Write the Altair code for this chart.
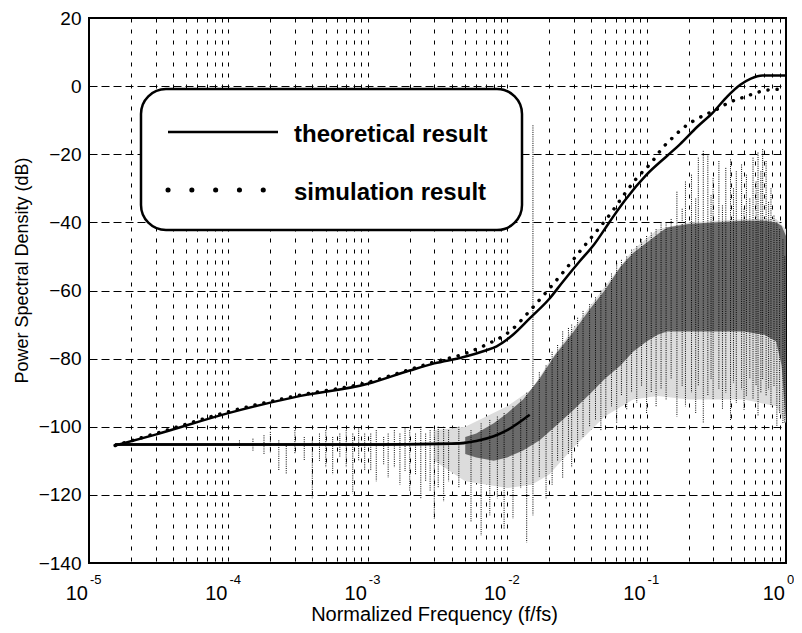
import altair as alt
import pandas as pd

FONT = "Liberation Sans"

# ---- theoretical result, upper curve (f/fs, dB)
th_up_f = [1.54e-5, 3e-5, 1e-4, 3e-4, 1e-3, 2e-3, 3e-3, 4.8e-3, 7e-3, 8.4e-3, 1.1e-2, 1.45e-2,
           2e-2, 2.5e-2, 3.3e-2, 4.2e-2, 5.5e-2, 7e-2, 0.1, 0.14, 0.174, 0.23, 0.3, 0.38,
           0.47, 0.56, 0.68, 1.0]
th_up_db = [-105.5, -102.3, -96, -91.3, -87.4, -83.5, -81.4, -79.6, -77.6, -76.4, -73, -68.2,
            -62.5, -57.5, -51.5, -46.5, -39.5, -33.5, -26, -20.5, -17, -12, -7.7, -3,
            0.4, 2.2, 3.1, 3.1]

# ---- simulation result, upper curve
sim_up_f = [1.54e-5, 3e-5, 1e-4, 3e-4, 1e-3, 2e-3, 3e-3, 5e-3, 7e-3, 1.08e-2, 1.45e-2, 2e-2,
            2.6e-2, 3.4e-2, 4.5e-2, 5.5e-2, 7e-2, 8.5e-2, 0.108, 0.131, 0.155, 0.18, 0.215,
            0.27, 0.32, 0.39, 0.47, 0.58, 0.68, 0.8, 1.0]
sim_up_db = [-105.5, -102, -95.6, -91, -87, -83.2, -81, -78.5, -76, -71.5, -66, -59.5,
             -54, -48, -42, -37.5, -31.5, -27, -22.5, -18, -15, -12.5, -10.3,
             -8.2, -6.8, -4.8, -3.6, -2.3, -1.4, -1.0, -0.9]

# ---- theoretical result, lower curve
th_lo_f = [1.54e-5, 1e-3, 4e-3, 6e-3, 8e-3, 1e-2, 1.45e-2, 2e-2, 2.5e-2, 3.5e-2, 6e-2,
           0.1, 0.2, 0.4, 0.7, 1.0]
th_lo_db = [-105.2, -105.2, -105, -104.2, -102.8, -101, -96.5, -92, -89, -84, -76,
            -64, -57, -55, -55, -55]

# ---- simulation result, lower (noisy spectrum): sparse outer envelope
out_f = [3e-3, 5e-3, 1e-2, 1.5e-2, 2e-2, 3e-2, 5e-2, 8e-2, 0.12, 0.2, 0.5, 0.85, 1.0]
out_hi = [-101, -100, -94, -89, -81, -71, -59, -48, -42, -40, -39, -39, -42]
out_lo = [-110, -116, -118, -117, -114, -106, -97, -92, -91, -92, -92, -94, -99]

# ---- simulation result, lower: dense core band
band_f = [5e-3, 6e-3, 8e-3, 1e-2, 1.3e-2, 1.7e-2, 2.2e-2, 3e-2, 4e-2, 5e-2, 6.5e-2,
          8e-2, 0.1, 0.12, 0.14, 0.2, 0.3, 0.5, 0.7, 0.85, 0.93, 1.0]
band_hi = [-103, -102, -99, -96, -92, -86, -79, -72, -65, -60, -53,
           -49, -46, -43.5, -41.5, -40.5, -40, -39.5, -39.5, -40, -41, -44]
band_lo = [-108, -109, -110, -109, -107, -104, -100, -95, -90, -86, -82,
           -78, -75, -73, -72, -72, -72, -72, -73, -75, -82, -99]

# ---- simulation result, lower: individual excursions (f, top dB, bottom dB)
spike_f = [1.2e-4, 1.5e-4, 1.8e-4, 2.0e-4, 2.3e-4, 2.6e-4, 3.0e-4, 3.5e-4, 4.0e-4, 4.5e-4,
           5.0e-4, 5.6e-4, 6.3e-4, 7.0e-4, 7.8e-4, 8.6e-4, 9.5e-4, 1.05e-3, 1.15e-3, 1.3e-3,
           1.4e-3, 1.55e-3, 1.7e-3, 1.85e-3, 2.0e-3, 2.2e-3, 2.4e-3, 2.6e-3, 2.8e-3, 3.0e-3,
           3.2e-3, 3.5e-3, 3.8e-3, 4.5e-3, 5.5e-3, 6.5e-3, 7.5e-3, 8.5e-3, 9.5e-3, 1.1e-2,
           1.25e-2, 1.38e-2, 1.53e-2, 1.7e-2, 1.9e-2, 2.1e-2, 2.3e-2, 2.5e-2, 2.75e-2, 2.9e-2,
           3.2e-2, 3.5e-2, 3.9e-2, 4.3e-2, 4.7e-2, 5.1e-2, 5.6e-2, 6.1e-2, 6.6e-2, 7.2e-2,
           7.8e-2, 8.5e-2, 9.2e-2, 0.1, 0.108, 0.117, 0.127, 0.138, 0.15, 0.165,
           0.18, 0.19, 0.21, 0.225, 0.235, 0.255, 0.275, 0.29, 0.3, 0.33,
           0.35, 0.37, 0.4, 0.42, 0.44, 0.48, 0.5, 0.52, 0.55, 0.58,
           0.61, 0.63, 0.66, 0.68, 0.72, 0.75, 0.78, 0.82, 0.86, 0.9,
           0.95, 0.98]
spike_hi = [-104, -103.5, -102.5, -101.5, -104, -105, -101, -103, -104, -102,
            -101, -103, -102, -101, -102, -100.5, -102, -102, -101, -103,
            -102, -101, -102, -100.5, -101, -102, -100, -102, -101, -101,
            -100, -100, -101, -100, -101, -99, -98, -97, -96, -94,
            -92, -90, -11.5, -84, -82, -78, -76, -72, -71, -70,
            -68, -66, -64, -62, -60, -58, -55, -52, -51, -50,
            -48, -47, -45, -44, -43, -42, -40, -40, -39, -31,
            -36, -28, -26, -33, -21, -19, -20, -32, -27, -22,
            -35, -24, -21.5, -30, -25, -23, -36, -26, -33, -21,
            -28, -19.5, -25, -18.5, -22, -34, -30, -38, -40, -42,
            -45, -50]
spike_lo = [-106.5, -107, -108, -107.5, -113, -114, -108, -110, -121, -110,
            -112, -114, -109, -112, -119.5, -110, -113, -113, -116, -111,
            -115, -112, -117, -113, -119, -114, -121, -116, -119, -127,
            -118, -122, -116, -118, -128, -132, -126, -121, -130, -127,
            -118, -134, -126, -115, -121, -117, -110, -115, -108, -112,
            -106, -103, -100, -98, -101, -97, -94, -99, -91, -95,
            -90, -93, -88, -96, -90, -94, -89, -92, -86, -97,
            -88, -94, -90, -96, -88, -99, -91, -86, -92, -89,
            -95, -90, -98, -87, -93, -89, -95, -91, -86, -92,
            -88, -97, -90, -86, -91, -89, -94, -88, -100, -96,
            -99, -99]

# ---- axes
decades = [1e-5, 1e-4, 1e-3, 1e-2, 1e-1, 1.0]
dec_exp = ["-5", "-4", "-3", "-2", "-1", "0"]
grid_f = [m * d for d in decades[:-1] for m in range(1, 10)] + [1.0]
y_ticks = [-140, -120, -100, -80, -60, -40, -20, 0, 20]

W, H = 697, 545

xscale = alt.Scale(type="log", domain=[1e-5, 1.0])
yscale = alt.Scale(domain=[-140, 20])

xaxis = alt.Axis(values=grid_f, labels=False, ticks=False, domain=False, grid=True,
                 gridColor="black", gridDash=[4, 7], gridWidth=1, gridOpacity=1,
                 title="Normalized Frequency (f/fs)", titleFont=FONT, titleFontSize=20,
                 titleFontWeight="normal", titleColor="black", titleX=345, titleY=57,
                 titleBaseline="alphabetic", titleAlign="center")
yaxis = alt.Axis(values=y_ticks, format="d", ticks=False, domain=False, grid=True,
                 gridColor="black", gridDash=[8, 4], gridWidth=1, gridOpacity=1,
                 labelFont=FONT, labelFontSize=19, labelColor="black", labelPadding=8,
                 title="Power Spectral Density (dB)", titleFont=FONT, titleFontSize=18,
                 titleFontWeight="normal", titleColor="black", titleAngle=-90,
                 titleX=-67, titleY=252, titleBaseline="middle", titleAlign="center")

X = alt.X("f:Q", scale=xscale, axis=xaxis)
Y = alt.Y("db:Q", scale=yscale, axis=yaxis)

out_df = pd.DataFrame({"f": out_f, "db": out_hi, "db2": out_lo})
band_df = pd.DataFrame({"f": band_f, "db": band_hi, "db2": band_lo})
spike_df = pd.DataFrame({"f": spike_f, "db": spike_hi, "db2": spike_lo})
th_up_df = pd.DataFrame({"f": th_up_f, "db": th_up_db})
sim_up_df = pd.DataFrame({"f": sim_up_f, "db": sim_up_db})
th_lo_df = pd.DataFrame({"f": th_lo_f, "db": th_lo_db})
dec_df = pd.DataFrame({"f": decades, "e": dec_exp})

outer = alt.Chart(out_df).mark_area(color="#dcdcdc", opacity=1).encode(
    x=X, y=Y, y2="db2:Q")
lo_hidden = alt.Chart(th_lo_df).mark_line(color="black", strokeWidth=2.5,
                                          interpolate="monotone").encode(x=X, y=Y)
band = alt.Chart(band_df).mark_area(color="#6a6a6a", opacity=1).encode(
    x=X, y=Y, y2="db2:Q")
spikes = alt.Chart(spike_df).mark_rule(color="black", strokeWidth=1,
                                       strokeDash=[1, 1.2]).encode(x=X, y=Y, y2="db2:Q")
lo_line = alt.Chart(th_lo_df).transform_filter(alt.datum.f <= 0.016).mark_line(
    color="black", strokeWidth=2.5, interpolate="monotone").encode(x=X, y=Y)
sim_line = alt.Chart(sim_up_df).mark_line(color="black", strokeWidth=3.5, strokeDash=[0.1, 9],
                                          strokeCap="round", interpolate="monotone").encode(x=X, y=Y)
up_line = alt.Chart(th_up_df).mark_line(color="black", strokeWidth=2.5,
                                        interpolate="monotone").encode(x=X, y=Y)

ten = alt.Chart(dec_df).mark_text(text="10", font=FONT, fontSize=20, align="right",
                                  baseline="alphabetic", dx=-1, color="black").encode(
    x=X, y=alt.value(582))
expo = alt.Chart(dec_df).mark_text(font=FONT, fontSize=13, align="left",
                                   baseline="alphabetic", dx=1, color="black").encode(
    x=X, y=alt.value(566), text="e:N")

one = alt.Chart(pd.DataFrame({"k": [0]}))
box = one.mark_rect(cornerRadius=25, fill="white", stroke="black", strokeWidth=2.5).encode(
    x=alt.value(52), x2=alt.value(433), y=alt.value(71), y2=alt.value(212))
leg_line = one.mark_rule(color="black", strokeWidth=2.5).encode(
    x=alt.value(79), x2=alt.value(189), y=alt.value(114))
leg_dots = one.mark_rule(color="black", strokeWidth=5, strokeDash=[0.1, 23.7],
                         strokeCap="round").encode(
    x=alt.value(79), x2=alt.value(176), y=alt.value(172))
leg_t1 = one.mark_text(text="theoretical result", font=FONT, fontSize=24, fontWeight="bold",
                       align="left", baseline="alphabetic", color="black").encode(
    x=alt.value(205), y=alt.value(124))
leg_t2 = one.mark_text(text="simulation result", font=FONT, fontSize=24, fontWeight="bold",
                       align="left", baseline="alphabetic", color="black").encode(
    x=alt.value(205), y=alt.value(182))

chart = alt.layer(
    outer, lo_hidden, band, spikes, lo_line, sim_line, up_line, ten, expo,
    box, leg_line, leg_dots, leg_t1, leg_t2
).properties(
    width=W, height=H,
    autosize=alt.AutoSizeParams(type="none"),
    padding={"left": 81, "top": 10, "right": 8, "bottom": 62},
    background="white",
).configure_view(stroke="black", strokeWidth=2)

chart.save("out.html", embed_options={"renderer": "svg", "actions": False})
